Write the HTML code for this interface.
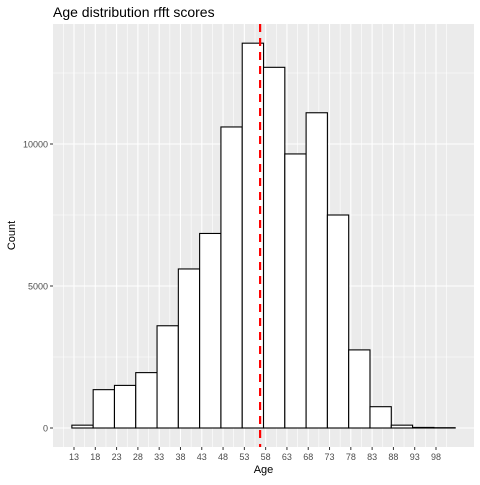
<!DOCTYPE html>
<html><head><meta charset="utf-8"><style>
body{margin:0;background:#fff;font-family:"Liberation Sans",sans-serif}
</style></head><body>
<svg id="c" width="480" height="480" xmlns="http://www.w3.org/2000/svg"></svg>
<script>
const bins=[13,18,23,28,33,38,43,48,53,58,63,68,73,78,83,88,93,98];
const counts=[100,1350,1500,1950,3600,5600,6850,10600,13550,12700,9650,11100,7500,2750,750,100,20,10];
const xTicks=[13,18,23,28,33,38,43,48,53,58,63,68,73,78,83,88,93,98];
const yTicks=[0,5000,10000];
const meanAge=56.7;
const binWidth=5;
const NS="http://www.w3.org/2000/svg";
const svg=document.getElementById('c');
const PL=53,PR=474,PT=24,PB=447;
const x=v=>74+(v-13)*(362/85);
const y=v=>428-v*0.0284;
function mk(t,a,p){const e=document.createElementNS(NS,t);for(const k in a)e.setAttribute(k,a[k]);(p||svg).appendChild(e);return e;}
const bg=mk('rect',{x:PL,y:PT,width:PR-PL,height:PB-PT,fill:'#EBEBEB'});


for(let i=0;i<yTicks.length;i++){const v=yTicks[i]+2500;const l=mk('line',{x1:PL,x2:PR,y1:y(v),y2:y(v),stroke:'#fff','stroke-width':0.6});}
for(let i=0;i<xTicks.length;i++){const v=xTicks[i]+2.5;const l=mk('line',{y1:PT,y2:PB,x1:x(v),x2:x(v),stroke:'#fff','stroke-width':0.6});}
{const l=mk('line',{y1:PT,y2:PB,x1:x(10.5),x2:x(10.5),stroke:'#fff','stroke-width':0.6});}
yTicks.forEach(v=>{const l=mk('line',{x1:PL,x2:PR,y1:y(v),y2:y(v),stroke:'#fff','stroke-width':1.1});
const tk=mk('line',{x1:PL-3,x2:PL,y1:y(v),y2:y(v),stroke:'#333','stroke-width':1});
const t=mk('text',{x:PL-5,y:y(v)+3.5,'text-anchor':'end','font-size':9,fill:'#4D4D4D'});t.textContent=v;});
xTicks.forEach(v=>{const l=mk('line',{y1:PT,y2:PB,x1:x(v),x2:x(v),stroke:'#fff','stroke-width':1.1});
const tk=mk('line',{y1:PB,y2:PB+3,x1:x(v),x2:x(v),stroke:'#333','stroke-width':1});
const t=mk('text',{x:x(v),y:PB+13,'text-anchor':'middle','font-size':9,fill:'#4D4D4D'});t.textContent=v;});
bins.forEach((b,i)=>{const x0=x(b-0.5),x1=x(b-0.5+binWidth);const r=mk('rect',{x:x0,y:y(counts[i]),width:x1-x0,height:y(0)-y(counts[i]),fill:'#fff',stroke:'#000','stroke-width':1.1});
});
const ml=mk('line',{x1:x(meanAge),x2:x(meanAge),y1:PT,y2:PB,stroke:'#FF0000','stroke-width':2.2,'stroke-dasharray':'8,6'});

const ti=mk('text',{x:PL,y:17,'font-size':14,fill:'#000'});ti.textContent='Age distribution rfft scores';
const xl=mk('text',{x:(PL+PR)/2,y:473,'text-anchor':'middle','font-size':11,fill:'#000'});xl.textContent='Age';
const yl=mk('text',{x:0,y:0,'text-anchor':'middle','font-size':11,fill:'#000',transform:'translate(15,'+((PT+PB)/2)+') rotate(-90)'});yl.textContent='Count';
</script>
</body></html>
